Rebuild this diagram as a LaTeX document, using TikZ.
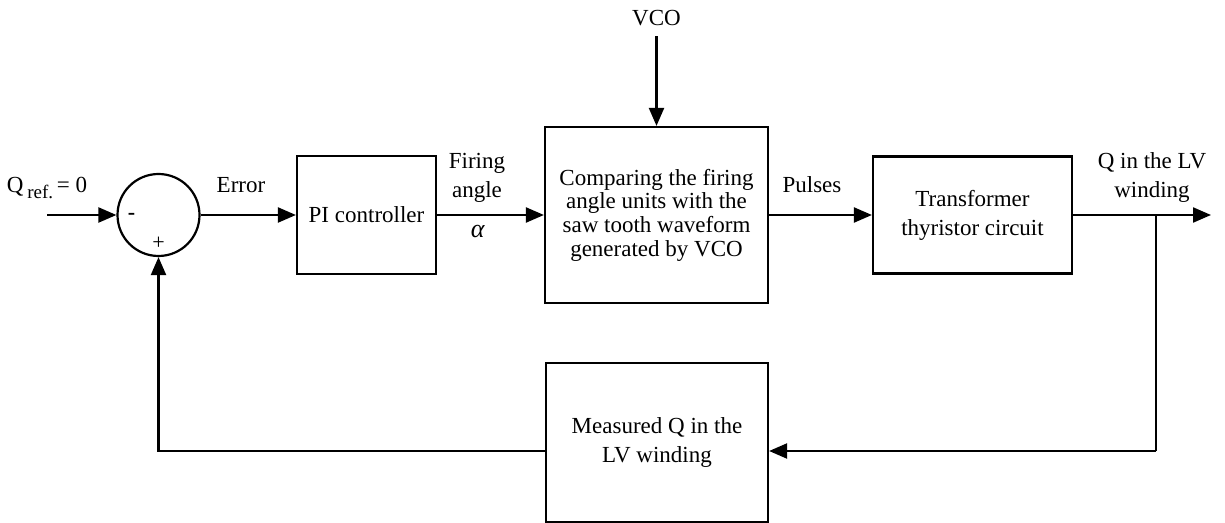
\documentclass[tikz,border=0pt]{standalone}
\usepackage{fontspec}
\setmainfont{Liberation Serif}
\usetikzlibrary{arrows.meta,positioning,calc}
\tikzset{
  blk/.style={draw,line width=1.1pt,rectangle,align=center,inner sep=2pt,
    font=\fontsize{11.5}{14.5}\selectfont},
  sumc/.style={draw,line width=1.1pt,circle,minimum size=41pt,inner sep=0pt},
  lbl/.style={inner sep=1pt,align=center,font=\fontsize{11.5}{14.5}\selectfont},
  sgn/.style={inner sep=0pt,font=\fontsize{11}{12}\selectfont},
  wire/.style={line width=1.1pt},
  sig/.style={wire,-{Triangle[length=9pt,width=7.5pt]}},
}
\begin{document}
\begin{tikzpicture}[x=0.5pt,y=-0.5pt]
  \useasboundingbox (0,0) rectangle (1225,523);
  % forward path
  \node[sumc](sum) at (158.5,215){};
  \node[blk,minimum width=69.5pt,minimum height=59pt](pi) at (366.5,215){PI controller};
  \node[blk,minimum width=111.5pt,minimum height=88pt,
    font=\fontsize{11.5}{11.8}\selectfont](cmp) at (656.5,215)
    {Comparing the firing\\angle units with the\\saw tooth waveform\\generated by VCO};
  \node[blk,minimum width=99.5pt,minimum height=58.5pt](trf) at (972.5,215)
    {Transformer\\thyristor circuit};
  \node[blk,minimum width=111pt,minimum height=79.5pt](meas) at (657,442.5)
    {Measured Q in the\\LV winding};
  \node[lbl](vco) at (656.5,18){VCO};
  \coordinate (in) at (47,215);
  \coordinate (out) at (1211,215);
  \coordinate (br) at (1156,215);
  \coordinate (fb) at (1156,451);
  % labels
  \node[lbl,anchor=base](qref) at (47,193){Q\,\raisebox{-0.55ex}{\fontsize{9.5}{10}\selectfont ref.}\,= 0};
  \node[sgn](minus) at (131.5,216){\textbf{-}};
  \node[sgn](plus) at (158.5,243){+};
  \node[lbl,anchor=base](err) at (241,193){Error};
  \node[lbl](fang) at (477,178){Firing\\angle};
  \node[lbl,font=\fontsize{13}{14}\selectfont](alpha) at (478,232){\textit{α}};
  \node[lbl,anchor=base](puls) at (812,193){Pulses};
  \node[lbl](qlv) at (1152,178){Q in the LV\\winding};
  % connectors
  \draw[sig](in)--(sum.west);
  \draw[sig](sum.east)--(pi.west);
  \draw[sig](pi.east)--(cmp.west);
  \draw[sig,shorten <=4pt](vco.south)--(vco.south |- cmp.north);
  \draw[sig](cmp.east)--(trf.west);
  \draw[sig](trf.east)--(out);
  \draw[wire](br)--(fb);
  \draw[sig](fb)--(fb -| meas.east);
  \draw[sig](fb -| meas.west)-|(sum.south);
\end{tikzpicture}
\end{document}
